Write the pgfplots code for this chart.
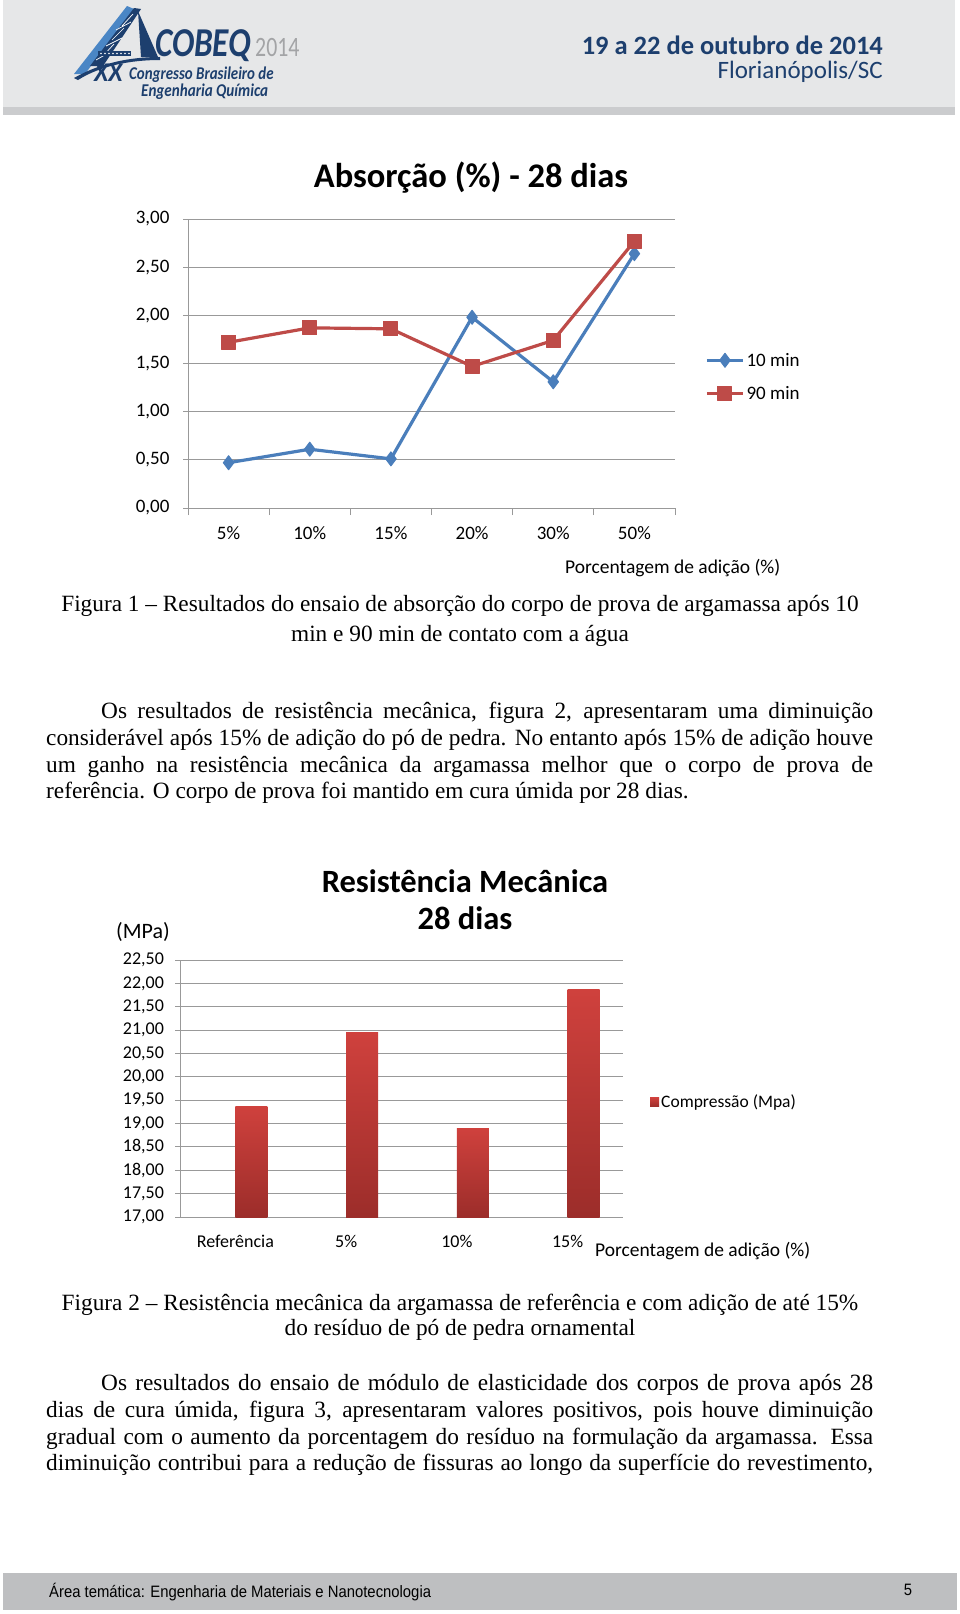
\documentclass[border=0pt]{standalone}
\usepackage{fontspec}
\setmainfont{Liberation Serif}
\newfontfamily\calibri{Carlito}
\newfontfamily\arial{Liberation Sans}
\usepackage{pgfplots}
\pgfplotsset{compat=1.18}

\definecolor{xlblue}{HTML}{4A7EBB}
\definecolor{xlred}{HTML}{BE4B48}
\definecolor{gridgray}{HTML}{999999}
\definecolor{bartop}{HTML}{CF413D}
\definecolor{barbot}{HTML}{9C2D2A}
\definecolor{hdrbg}{HTML}{E6E7E8}
\definecolor{hdrstrip}{HTML}{CBCCCE}
\definecolor{navy}{HTML}{1D3F6E}
\definecolor{lightblue}{HTML}{4A86C5}
\definecolor{footbg}{HTML}{BEBFC1}
\definecolor{logogray}{HTML}{A3A4A6}

\newcommand{\fs}[1]{\fontsize{#1}{#1}\selectfont}

\begin{document}
\begin{tikzpicture}[x=1pt,y=1pt]
\fill[white] (0,0) rectangle (960,-1614);

% header band
\fill[hdrbg] (3,0) rectangle (955,-107);
\fill[hdrstrip] (3,-107) rectangle (955,-115);

% logo (rough)
\fill[lightblue] (74,-74) -- (85,-74) -- (134,-9) -- (127,-6) -- cycle;
\fill[navy] (90,-66) -- (103,-66) -- (141,-9) -- (134,-8) -- cycle;
\draw[white, line width=0.7] (96,-60) -- (110,-52) (103,-56) -- (114,-44) (106,-46) -- (122,-38)
  (112,-40) -- (124,-28) (116,-30) -- (131,-22) (122,-26) -- (133,-14);
\fill[navy] (98,-51) rectangle (131,-56);
\foreach \i in {101,105,...,129} \fill[white] (\i,-53.5) circle (0.9);
\fill[navy] (138,-11) -- (158,-57) -- (141,-57) -- cycle;
\fill[navy] (74,-78) .. controls (100,-63) and (130,-57) .. (160,-57) -- (160,-60)
  .. controls (130,-60) and (100,-66) .. (78,-80) -- cycle;
\node[anchor=base west, inner sep=0, text=navy, font=\calibri\bfseries\itshape\fs{41}] at (155,-56) {\scalebox{0.81}[1]{COBEQ}};
\node[anchor=base west, inner sep=0, text=logogray, font=\calibri\fs{28}] at (255,-56) {\scalebox{0.78}[1]{2014}};
\node[anchor=base west, inner sep=0, text=navy, font=\calibri\bfseries\itshape\fs{27}] at (94,-81) {\scalebox{0.95}[1]{XX}};
\node[anchor=base west, inner sep=0, text=navy, font=\calibri\bfseries\itshape\fs{18}] at (129,-79) {\scalebox{0.83}[1]{Congresso Brasileiro de}};
\node[anchor=base west, inner sep=0, text=navy, font=\calibri\bfseries\itshape\fs{18}] at (141,-96) {\scalebox{0.84}[1]{Engenharia Química}};

\node[anchor=base east, inner sep=0, text=navy, font=\calibri\bfseries\fs{26.5}] at (883,-54) {19 a 22 de outubro de 2014};
\node[anchor=base east, inner sep=0, text=navy, font=\calibri\fs{25}] at (883,-78) {Florianópolis/SC};

% ---------- chart 1
\node[anchor=base, inner sep=0, font=\calibri\bfseries\fs{34.5}] at (471,-187) {Absorção (\%) - 28 dias};
\begin{axis}[
  at={(188pt,-508pt)}, anchor=south west, scale only axis,
  width=487pt, height=289pt,
  xmin=-0.5, xmax=5.5, ymin=0, ymax=3,
  xtick={0,...,5}, xticklabels={5\%,10\%,15\%,20\%,30\%,50\%},
  ytick={0,0.5,...,3},
  minor xtick={-0.5,0.5,...,5.5},
  axis lines*=left,
  axis line style={draw=gridgray, line width=1pt, -},
  ymajorgrids, grid style={draw=gridgray, line width=1pt},
  tick align=outside,
  major x tick style={draw=none},
  minor x tick style={draw=gridgray, line width=1pt},
  ytick style={draw=gridgray, line width=1pt},
  major tick length=5pt, minor tick length=7pt,
  tick label style={font=\calibri\fs{19}},
  yticklabel style={xshift=-10pt},
  xticklabel style={yshift=-10pt},
  /pgf/number format/.cd, use comma, fixed, fixed zerofill, precision=2, assume math mode=true,
  /pgfplots/.cd,
  legend style={at={(1.062,0.453)}, anchor=west, draw=none, fill=none,
    font=\calibri\fs{19}, row sep=15pt, inner sep=0pt},
  legend cell align=left,
  legend image code/.code={\draw[mark repeat=2,mark phase=2,#1] plot coordinates {(0pt,0pt)(18pt,0pt)(36pt,0pt)};},
  clip=false,
]
\addplot[xlblue, line width=3.2pt, line join=round, mark=diamond*, mark size=7pt, mark options={solid, fill=xlblue, line width=1pt}]
  coordinates {(0,0.47)(1,0.61)(2,0.51)(3,1.98)(4,1.31)(5,2.64)};
\addlegendentry{10 min}
\addplot[xlred, line width=3.2pt, line join=round, mark=square*, mark size=7pt, mark options={solid, fill=xlred, line width=1pt}]
  coordinates {(0,1.72)(1,1.87)(2,1.86)(3,1.47)(4,1.74)(5,2.77)};
\addlegendentry{90 min}
\end{axis}
\node[anchor=base west, inner sep=0, font=\calibri\fs{19.5}] at (565,-573) {Porcentagem de adição (\%)};

% caption 1
\node[anchor=base, inner sep=0, font=\fontsize{23.3}{26}\selectfont] at (460,-611) {Figura 1 – Resultados do ensaio de absorção do corpo de prova de argamassa após 10};
\node[anchor=base, inner sep=0, font=\fontsize{23.3}{26}\selectfont] at (460,-641) {min e 90 min de contato com a água};

% paragraph 1
\begin{scope}[every node/.style={anchor=base west, inner sep=0, font=\fontsize{23.3}{26}\selectfont}]
\node at (101,-718) {\makebox[772pt][s]{Os resultados de resistência mecânica, figura 2, apresentaram uma diminuição}};
\node at (46,-745) {\makebox[827pt][s]{considerável após 15\% de adição do pó de pedra. No entanto após 15\% de adição houve}};
\node at (46,-772) {\makebox[827pt][s]{um ganho na resistência mecânica da argamassa melhor que o corpo de prova de}};
\node at (46,-798) {referência. O corpo de prova foi mantido em cura úmida por 28 dias.};
\end{scope}

% ---------- chart 2
\node[anchor=base, inner sep=0, font=\calibri\bfseries\fs{32.5}] at (465,-892) {Resistência Mecânica};
\node[anchor=base, inner sep=0, font=\calibri\bfseries\fs{32.5}] at (465,-929) {28 dias};
\node[anchor=base west, inner sep=0, font=\calibri\fs{22}] at (116,-938) {(MPa)};
\begin{axis}[
  at={(180pt,-1217pt)}, anchor=south west, scale only axis,
  width=443pt, height=257pt,
  xmin=-0.5, xmax=3.5, ymin=17, ymax=22.5,
  ytick={17,17.5,...,22.5},
  xtick={0,1,2,3}, xticklabels={Referência,5\%,10\%,15\%},
  ybar, bar width=32pt,
  axis lines*=left,
  axis line style={draw=gridgray, line width=1pt, -},
  ymajorgrids, grid style={draw=gridgray, line width=1pt},
  tick align=outside,
  major x tick style={draw=none},
  ytick style={draw=gridgray, line width=1pt},
  major tick length=5pt,
  tick label style={font=\calibri\fs{18}},
  yticklabel style={xshift=-7.5pt},
  xticklabel style={yshift=-10pt},
  /pgf/number format/.cd, use comma, fixed, fixed zerofill, precision=2, assume math mode=true,
  /pgfplots/.cd,
  legend style={at={(1.061,0.447)}, anchor=west, draw=none, fill=none,
    font=\calibri\fs{17.5}, inner sep=0pt},
]
\addplot[draw=none, bar shift=16pt, top color=bartop, bottom color=barbot,
  legend image code/.code={\fill[bartop!85!barbot] (0pt,-4.5pt) rectangle (9pt,4.5pt);}]
  coordinates {(0,19.37)};
\addlegendentry{Compressão (Mpa)}
\addplot[draw=none, bar shift=16pt, top color=bartop, bottom color=barbot, forget plot] coordinates {(1,20.95)};
\addplot[draw=none, bar shift=16pt, top color=bartop, bottom color=barbot, forget plot] coordinates {(2,18.89)};
\addplot[draw=none, bar shift=16pt, top color=bartop, bottom color=barbot, forget plot] coordinates {(3,21.86)};
\end{axis}
\node[anchor=base west, inner sep=0, font=\calibri\fs{19.5}] at (595,-1256) {Porcentagem de adição (\%)};

% caption 2
\node[anchor=base, inner sep=0, font=\fontsize{23.3}{26}\selectfont] at (460,-1310) {Figura 2 – Resistência mecânica da argamassa de referência e com adição de até 15\%};
\node[anchor=base, inner sep=0, font=\fontsize{23.3}{26}\selectfont] at (460,-1335) {do resíduo de pó de pedra ornamental};

% paragraph 2
\begin{scope}[every node/.style={anchor=base west, inner sep=0, font=\fontsize{23.3}{26}\selectfont}]
\node at (101,-1390) {\makebox[772pt][s]{Os resultados do ensaio de módulo de elasticidade dos corpos de prova após 28}};
\node at (46,-1417) {\makebox[827pt][s]{dias de cura úmida, figura 3, apresentaram valores positivos, pois houve diminuição}};
\node at (46,-1444) {\makebox[827pt][s]{gradual com o aumento da porcentagem do resíduo na formulação da argamassa. Essa}};
\node at (46,-1470) {\makebox[827pt][s]{diminuição contribui para a redução de fissuras ao longo da superfície do revestimento,}};
\end{scope}

% footer
\fill[footbg] (3,-1573) rectangle (957,-1610);
\node[anchor=base west, inner sep=0, font=\arial\fs{16.5}] at (49,-1597) {\scalebox{0.9}[1]{Área temática: Engenharia de Materiais e Nanotecnologia}};
\node[anchor=base, inner sep=0, font=\arial\fs{16.5}] at (908,-1595) {\scalebox{0.9}[1]{5}};
\end{tikzpicture}
\end{document}
